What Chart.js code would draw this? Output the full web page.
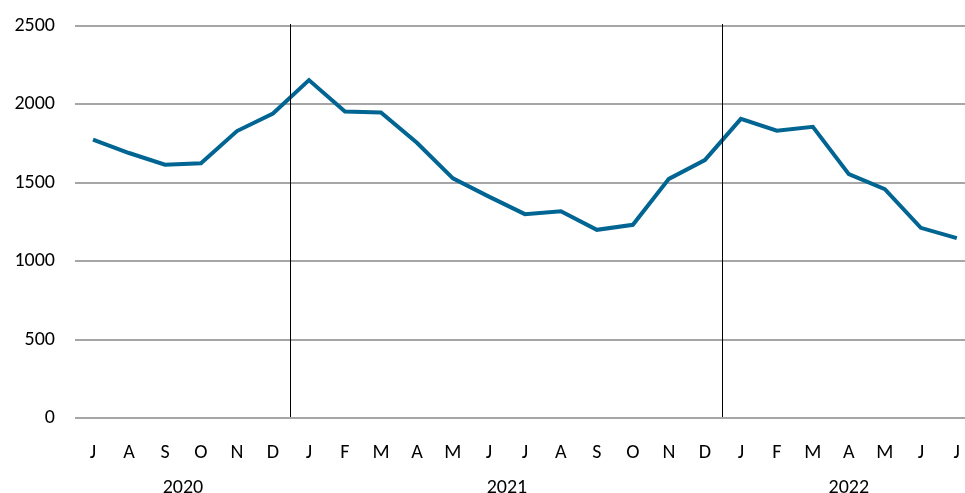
<!DOCTYPE html>
<html>
<head>
<meta charset="utf-8">
<script src="https://cdn.jsdelivr.net/npm/chart.js@4"></script>
<style>
  html, body { margin: 0; padding: 0; background: #fff; overflow: hidden; }
  #wrap { width: 975px; height: 499px; margin-top: -6px; }
</style>
</head>
<body>
<div id="wrap"><canvas id="chart" width="975" height="499"></canvas></div>
<script>
// Months (Jul 2020 - Jul 2022)
const months = ['J', 'A', 'S', 'O', 'N', 'D',
  'J', 'F', 'M', 'A', 'M', 'J', 'J', 'A', 'S', 'O', 'N', 'D',
  'J', 'F', 'M', 'A', 'M', 'J', 'J'];
const years = [2020, 2020, 2020, 2020, 2020, 2020,
  2021, 2021, 2021, 2021, 2021, 2021, 2021, 2021, 2021, 2021, 2021, 2021,
  2022, 2022, 2022, 2022, 2022, 2022, 2022];
const values = [1775, 1690, 1615, 1625, 1830, 1942,
  2155, 1955, 1948, 1755, 1528, 1412, 1300, 1318, 1200, 1232, 1525, 1645,
  1908, 1832, 1857, 1555, 1460, 1213, 1147];
const yTicks = [0, 500, 1000, 1500, 2000, 2500];

const FONT = "Carlito, 'Liberation Sans Narrow', 'Liberation Sans', sans-serif";

// year separators + year labels under the month labels
const yearPlugin = {
  id: 'years',
  afterDraw(chart) {
    const ctx = chart.ctx;
    const x = chart.scales.x;
    const area = chart.chartArea;
    ctx.save();
    // group indices by year
    const groups = [];
    years.forEach((y, i) => {
      const g = groups[groups.length - 1];
      if (g && g.year === y) g.end = i;
      else groups.push({ year: y, start: i, end: i });
    });
    groups.forEach((g, k) => {
      if (k > 0) {
        const sx = Math.round((x.getPixelForValue(g.start - 1) + x.getPixelForValue(g.start)) / 2) - 0.5;
        ctx.strokeStyle = '#000';
        ctx.lineWidth = 1;
        ctx.beginPath();
        ctx.moveTo(sx, area.top - 2);
        ctx.lineTo(sx, area.bottom - 1);
        ctx.stroke();
      }
      const cx = (x.getPixelForValue(g.start) + x.getPixelForValue(g.end)) / 2;
      ctx.fillStyle = '#000';
      ctx.font = '20px ' + FONT;
      ctx.textAlign = 'center';
      ctx.textBaseline = 'middle';
      ctx.fillText(String(g.year), cx, area.bottom + 70);
    });
    ctx.restore();
  }
};

new Chart(document.getElementById('chart'), {
  type: 'line',
  data: {
    labels: months,
    datasets: [{
      data: values,
      borderColor: '#006592',
      borderWidth: 4,
      pointRadius: 0,
      tension: 0,
      fill: false
    }]
  },
  options: {
    responsive: false,
    animation: false,
    layout: { padding: 0 },
    plugins: { legend: { display: false }, tooltip: { enabled: false } },
    scales: {
      x: {
        offset: true,
        grid: { display: false },
        border: { display: false },
        ticks: { color: '#000', font: { size: 20, family: FONT }, padding: 15, maxRotation: 0, autoSkip: false },
        afterFit(scale) { scale.height = 75; }
      },
      y: {
        min: 0,
        max: 2500,
        afterBuildTicks(scale) { scale.ticks = yTicks.map(v => ({ value: v })); },
        grid: { color: '#a6a6a6', lineWidth: 2, drawTicks: false },
        border: { display: false },
        ticks: { color: '#000', font: { size: 20, family: FONT }, padding: 20, callback: v => String(v) },
        afterFit(scale) { scale.width = 75; }
      }
    }
  },
  plugins: [yearPlugin]
});
</script>
</body>
</html>
